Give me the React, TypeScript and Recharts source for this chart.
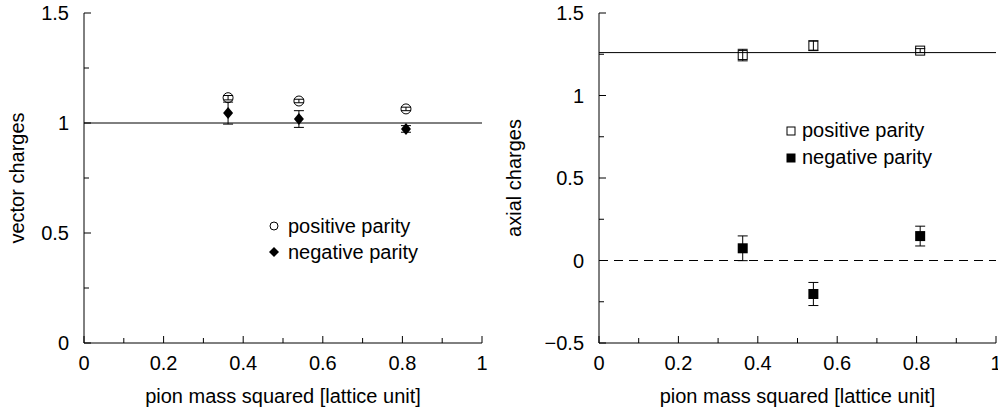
import React from 'react';
import { ScatterChart, Scatter, XAxis, YAxis, ErrorBar, ReferenceLine, Legend, Label } from 'recharts';

const FONT = '"Liberation Sans", Arial, Helvetica, sans-serif';

// pion mass squared (x positions shared by both panels)
const pionMassSq = [0.362, 0.54, 0.809];

// left panel: vector charges
const vectorPositive = [1.115, 1.1, 1.064];
const vectorPositiveErr = [0.01, 0.008, 0.008];
const vectorNegative = [1.045, 1.018, 0.973];
const vectorNegativeErr = [0.05, 0.038, 0.015];
const vectorRef = 1;

// right panel: axial charges
const axialPositive = [1.245, 1.302, 1.272];
const axialPositiveErr = [0.035, 0.03, 0.012];
const axialNegative = [0.074, -0.203, 0.148];
const axialNegativeErr = [0.075, 0.07, 0.06];
const axialRef = 1.26;
const axialZero = 0;

// ticks
const xMajor = [0, 0.2, 0.4, 0.6, 0.8, 1];
const xMinor = [0.1, 0.3, 0.5, 0.7, 0.9];
const vecYMajor = [0, 0.5, 1, 1.5];
const vecYMinor = [0.25, 0.75, 1.25];
const axYMajor = [-0.5, 0, 0.5, 1, 1.5];
const axYMinor = [-0.25, 0.25, 0.75, 1.25];

const legendLabels = ['positive parity', 'negative parity'];

const byVal = (a: number, b: number) => a - b;
const xTicks = [...xMajor, ...xMinor].sort(byVal);
const vecYTicks = [...vecYMajor, ...vecYMinor].sort(byVal);
const axYTicks = [...axYMajor, ...axYMinor].sort(byVal);

const toPoints = (ys: number[], errs: number[]) =>
  pionMassSq.map((x, i) => ({ x, y: ys[i], err: errs[i] }));

const fmt = (v: number) => (v < 0 ? '\u2212' + Math.abs(v) : String(v));

const MAJOR = 7;
const MINOR = 5;

function tickFor(side: 'bottom' | 'top' | 'left' | 'right', majors: number[]) {
  return (props: any) => {
    const { x, y, payload } = props;
    const v = payload.value as number;
    const major = majors.some((m) => Math.abs(m - v) < 1e-9);
    const len = major ? MAJOR : MINOR;
    if (side === 'bottom') {
      return (
        <g>
          <line x1={x} y1={y} x2={x} y2={y - len} stroke="#000" />
          {major && (
            <text x={x} y={y + 27} textAnchor="middle" fontSize={20} fontFamily={FONT} fill="#000">
              {fmt(v)}
            </text>
          )}
        </g>
      );
    }
    if (side === 'top') return <line x1={x} y1={y} x2={x} y2={y + len} stroke="#000" />;
    if (side === 'right') return <line x1={x} y1={y} x2={x - len} y2={y} stroke="#000" />;
    return (
      <g>
        <line x1={x} y1={y} x2={x + len} y2={y} stroke="#000" />
        {major && (
          <text x={x - 15} y={y + 7} textAnchor="end" fontSize={20} fontFamily={FONT} fill="#000">
            {fmt(v)}
          </text>
        )}
      </g>
    );
  };
}

const OpenCircle = (p: any) => <circle cx={p.cx} cy={p.cy} r={5} fill="none" stroke="#000" strokeWidth={1} />;
const Diamond = (p: any) => (
  <path d={`M${p.cx},${p.cy - 6}L${p.cx + 5},${p.cy}L${p.cx},${p.cy + 6}L${p.cx - 5},${p.cy}Z`} fill="#000" />
);
const OpenSquare = (p: any) => (
  <rect x={p.cx - 4.5} y={p.cy - 4.5} width={9} height={9} fill="none" stroke="#000" strokeWidth={1} />
);
const FilledSquare = (p: any) => <rect x={p.cx - 5} y={p.cy - 5} width={10} height={10} fill="#000" />;

function legendContent(icons: React.ReactNode[], gap: number, rowH: number) {
  return () => (
    <div style={{ fontFamily: FONT, fontSize: 20, color: '#000', whiteSpace: 'nowrap' }}>
      {legendLabels.map((t, i) => (
        <div key={t} style={{ height: rowH, display: 'flex', alignItems: 'center' }}>
          <svg width={14} height={14} style={{ marginRight: gap }}>
            {icons[i]}
          </svg>
          <span>{t}</span>
        </div>
      ))}
    </div>
  );
}

function Panel({
  width,
  plotLeft,
  rightMargin,
  yDomain,
  yTicks,
  yMajor,
  yLabel,
  yLabelDx,
  series,
  refs,
  legend,
  legendPos,
}: any) {
  return (
    <ScatterChart width={width} height={412} margin={{ top: 13, right: rightMargin, bottom: 0, left: 0 }}>
      <XAxis
        type="number"
        dataKey="x"
        domain={[0, 1]}
        ticks={xTicks}
        interval={0}
        height={69}
        tickSize={0}
        tickMargin={0}
        tickLine={false}
        axisLine={{ stroke: '#000' }}
        tick={tickFor('bottom', xMajor)}
      >
        <Label
          value="pion mass squared [lattice unit]"
          position="center"
          dy={18}
          style={{ fontFamily: FONT, fontSize: 20, fill: '#000' }}
        />
      </XAxis>
      <XAxis
        xAxisId="top"
        orientation="top"
        type="number"
        dataKey="x"
        domain={[0, 1]}
        ticks={xTicks}
        interval={0}
        height={0}
        tickSize={0}
        tickMargin={0}
        tickLine={false}
        axisLine={{ stroke: '#000' }}
        tick={tickFor('top', xMajor)}
      />
      <YAxis
        type="number"
        dataKey="y"
        domain={yDomain}
        ticks={yTicks}
        interval={0}
        width={plotLeft}
        tickSize={0}
        tickMargin={0}
        tickLine={false}
        axisLine={{ stroke: '#000' }}
        tick={tickFor('left', yMajor)}
      >
        <Label
          value={yLabel}
          position="center"
          angle={-90}
          dx={yLabelDx}
          style={{ fontFamily: FONT, fontSize: 20, fill: '#000' }}
        />
      </YAxis>
      <YAxis
        yAxisId="right"
        orientation="right"
        type="number"
        dataKey="y"
        domain={yDomain}
        ticks={yTicks}
        interval={0}
        width={0}
        tickSize={0}
        tickMargin={0}
        tickLine={false}
        axisLine={{ stroke: '#000' }}
        tick={tickFor('right', yMajor)}
      />
      {refs.map((r: any, i: number) => (
        <ReferenceLine
          key={i}
          y={r.y}
          stroke="#000"
          strokeWidth={1}
          strokeDasharray={r.dashed ? '9 6' : undefined}
        />
      ))}
      {series.map((s: any) => (
        <Scatter key={s.name} name={s.name} data={s.data} shape={s.shape} isAnimationActive={false}>
          <ErrorBar dataKey="err" direction="y" width={5} stroke="#000" strokeWidth={1} isAnimationActive={false} />
        </Scatter>
      ))}
      <Legend
        layout="vertical"
        align="center"
        verticalAlign="middle"
        content={legend}
        wrapperStyle={{ position: 'absolute', left: legendPos.left, top: legendPos.top, width: 'auto', height: 'auto' }}
      />
    </ScatterChart>
  );
}

export default function App() {
  return (
    <div style={{ position: 'absolute', left: 0, top: 0, width: 998, height: 412, background: '#fff' }}>
      <div style={{ position: 'absolute', left: 0, top: 0 }}>
        <Panel
          width={500}
          plotLeft={84}
          rightMargin={18}
          yDomain={[0, 1.5]}
          yTicks={vecYTicks}
          yMajor={vecYMajor}
          yLabel="vector charges"
          yLabelDx={-25}
          refs={[{ y: vectorRef }]}
          series={[
            { name: 'positive parity', data: toPoints(vectorPositive, vectorPositiveErr), shape: OpenCircle },
            { name: 'negative parity', data: toPoints(vectorNegative, vectorNegativeErr), shape: Diamond },
          ]}
          legend={legendContent(
            [
              <circle key="c" cx={7} cy={7} r={4} fill="none" stroke="#000" />,
              <path key="d" d="M7,2L12,7L7,12L2,7Z" fill="#000" />,
            ],
            7,
            26,
          )}
          legendPos={{ left: 267, top: 213 }}
        />
      </div>
      <div style={{ position: 'absolute', left: 500, top: 0 }}>
        <Panel
          width={498}
          plotLeft={99}
          rightMargin={2}
          yDomain={[-0.5, 1.5]}
          yTicks={axYTicks}
          yMajor={axYMajor}
          yLabel="axial charges"
          yLabelDx={-36}
          refs={[{ y: axialRef }, { y: axialZero, dashed: true }]}
          series={[
            { name: 'positive parity', data: toPoints(axialPositive, axialPositiveErr), shape: OpenSquare },
            { name: 'negative parity', data: toPoints(axialNegative, axialNegativeErr), shape: FilledSquare },
          ]}
          legend={legendContent(
            [
              <rect key="s" x={3} y={3} width={8} height={8} fill="none" stroke="#000" />,
              <rect key="f" x={2.5} y={2.5} width={9} height={9} fill="#000" />,
            ],
            4,
            27,
          )}
          legendPos={{ left: 284, top: 117 }}
        />
      </div>
    </div>
  );
}
